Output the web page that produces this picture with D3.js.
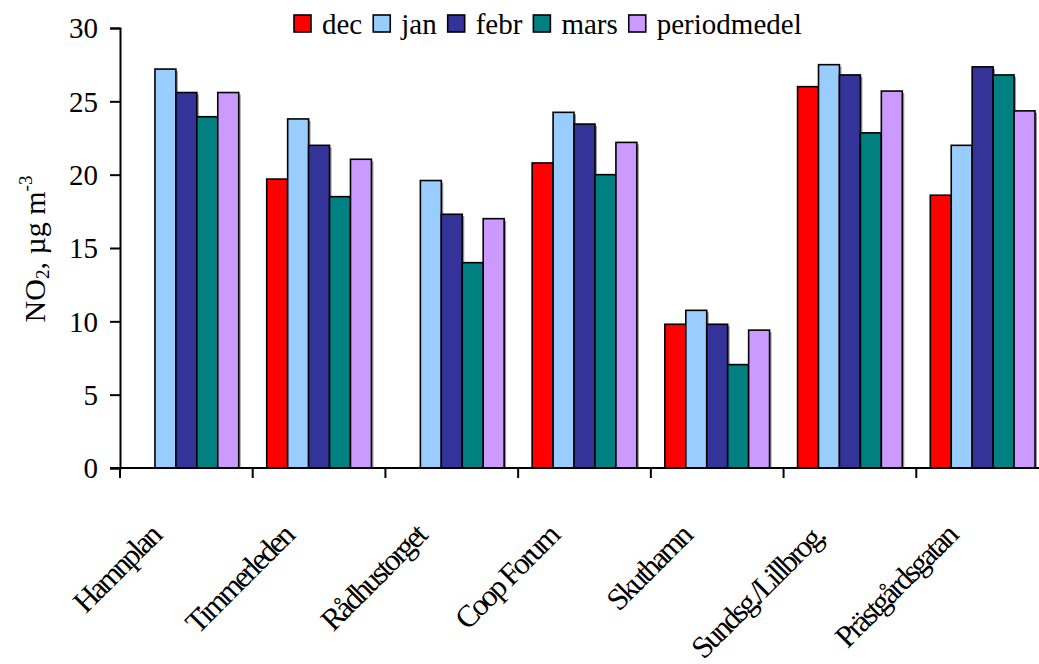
<!DOCTYPE html>
<html>
<head>
<meta charset="utf-8">
<script src="https://cdn.jsdelivr.net/npm/d3@7/dist/d3.min.js"></script>
<style>
  html, body { margin: 0; padding: 0; background: #fff; }
  svg { display: block; }
  text { font-family: "Liberation Serif", "Times New Roman", serif; fill: #000; }
</style>
</head>
<body>
<svg id="chart" width="1039" height="664"></svg>
<script>
// NO2 monthly means per measuring site (µg/m3)
const categories = ["Hamnplan", "Timmerleden", "Rådhustorget", "Coop Forum", "Skuthamn", "Sundsg./Lillbrog.", "Prästgårdsgatan"];
const seriesNames = ["dec", "jan", "febr", "mars", "periodmedel"];
const dec = [null, 19.7, null, 20.8, 9.8, 26.0, 18.6];
const jan = [27.2, 23.8, 19.6, 24.25, 10.75, 27.5, 22.0];
const febr = [25.6, 22.0, 17.3, 23.45, 9.8, 26.8, 27.35];
const mars = [23.95, 18.5, 14.0, 20.0, 7.05, 22.85, 26.8];
const periodmedel = [25.6, 21.05, 17.0, 22.2, 9.4, 25.7, 24.35];
const yTicks = [0, 5, 10, 15, 20, 25, 30];
const colors = ["#FF0000", "#99CCFF", "#333399", "#008080", "#CC99FF"];

const seriesValues = [dec, jan, febr, mars, periodmedel];

const svg = d3.select("#chart");
const plot = { left: 120, top: 28, bottom: 468, right: 1049 };

const x0 = d3.scaleBand().domain(categories).range([plot.left, plot.right]).padding(0);
const groupPad = 14;
const x1 = d3.scaleBand().domain(seriesNames).range([groupPad, x0.bandwidth() - groupPad]).padding(0);
const y = d3.scaleLinear().domain([0, 30]).range([plot.bottom, plot.top]);
const color = d3.scaleOrdinal().domain(seriesNames).range(colors);

// bars (with a soft right/bottom shadow)
const rows = [];
categories.forEach((c, i) => {
  seriesNames.forEach((s, j) => {
    const v = seriesValues[j][i];
    if (v != null) rows.push({ cat: c, series: s, value: v });
  });
});

const barG = svg.append("g");
barG.selectAll("rect.shadow").data(rows).join("rect")
  .attr("class", "shadow")
  .attr("x", d => x0(d.cat) + x1(d.series) + 2)
  .attr("y", d => y(d.value) + 2)
  .attr("width", x1.bandwidth())
  .attr("height", d => y(0) - y(d.value) - 2)
  .attr("fill", "#9a9a9a");
barG.selectAll("rect.bar").data(rows).join("rect")
  .attr("class", "bar")
  .attr("x", d => x0(d.cat) + x1(d.series))
  .attr("y", d => y(d.value))
  .attr("width", x1.bandwidth())
  .attr("height", d => y(0) - y(d.value))
  .attr("fill", d => color(d.series))
  .attr("stroke", "#000")
  .attr("stroke-width", 1.6);

// y axis
const yAxis = svg.append("g")
  .attr("transform", `translate(${plot.left},0)`)
  .call(d3.axisLeft(y).tickValues(yTicks).tickSize(10).tickPadding(12).tickFormat(d3.format("d")));
yAxis.select(".domain").attr("stroke", "#000").attr("stroke-width", 2);
yAxis.selectAll(".tick line").attr("stroke", "#000").attr("stroke-width", 2);
yAxis.selectAll(".tick text")
  .attr("font-family", "Liberation Serif, serif")
  .attr("font-size", 29)
  .attr("dy", "0.34em");

// x axis: line with ticks at category boundaries
const xAxisG = svg.append("g");
xAxisG.append("line")
  .attr("x1", plot.left - 10).attr("x2", plot.right)
  .attr("y1", y(0)).attr("y2", y(0))
  .attr("stroke", "#000").attr("stroke-width", 2);
const boundaries = categories.map(c => x0(c)).concat([x0(categories[categories.length - 1]) + x0.bandwidth()]);
xAxisG.selectAll("line.tick").data(boundaries).join("line")
  .attr("class", "tick")
  .attr("x1", d => d).attr("x2", d => d)
  .attr("y1", y(0)).attr("y2", y(0) + 10)
  .attr("stroke", "#000").attr("stroke-width", 2);

// rotated category labels
xAxisG.selectAll("text.cat").data(categories).join("text")
  .attr("class", "cat")
  .attr("transform", d => `translate(${x0(d) + x0.bandwidth() / 2 - 24},${y(0) + 70}) rotate(-45)`)
  .attr("text-anchor", "end")
  .attr("font-size", 31)
  .attr("letter-spacing", "-2.6px")
  .text(d => d);

// y axis title: NO2, µg m-3
const yTitle = svg.append("text")
  .attr("transform", `translate(45,249) rotate(-90)`)
  .attr("text-anchor", "middle")
  .attr("font-size", 30);
yTitle.append("tspan").text("NO");
yTitle.append("tspan").attr("font-size", 19).attr("dy", 4).text("2");
yTitle.append("tspan").attr("dy", -4).text(", µg m");
yTitle.append("tspan").attr("font-size", 19).attr("dy", -13).text("-3");

// legend
const legend = svg.append("g");
let lx = 293;
seriesNames.forEach(s => {
  legend.append("rect")
    .attr("x", lx + 1).attr("y", 15)
    .attr("width", 17).attr("height", 17)
    .attr("fill", color(s)).attr("stroke", "#000").attr("stroke-width", 1.6);
  const t = legend.append("text")
    .attr("x", lx + 29).attr("y", 34)
    .attr("font-size", 29)
    .text(s);
  lx += 29 + t.node().getComputedTextLength() + 10;
});
</script>
</body>
</html>
